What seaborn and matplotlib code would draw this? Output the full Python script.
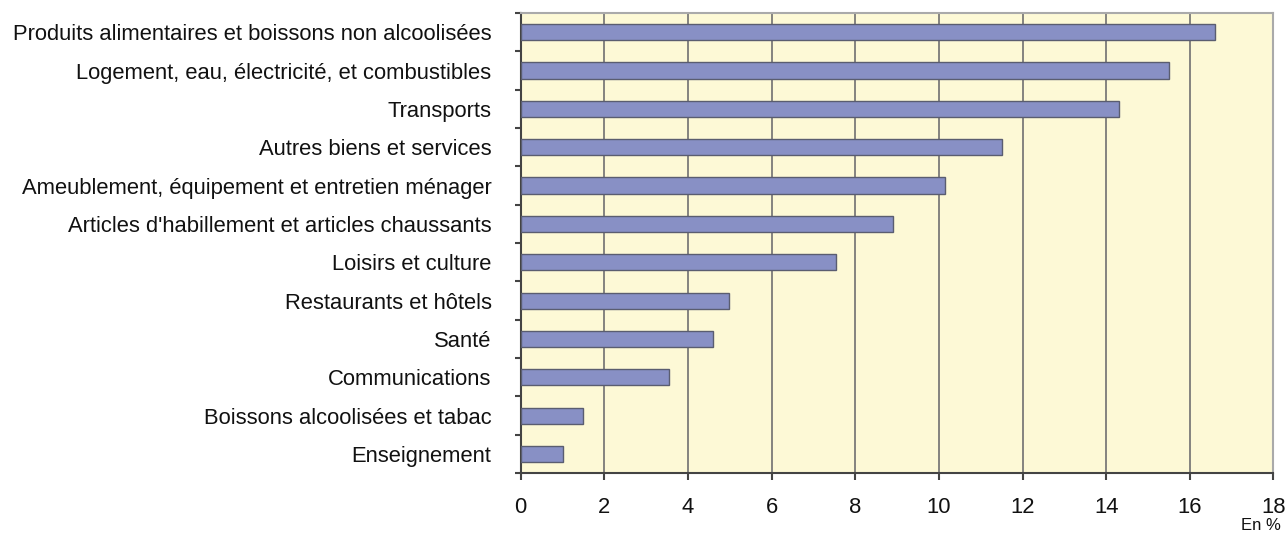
import matplotlib.pyplot as plt
import seaborn as sns
import pandas as pd
import numpy as np
from matplotlib.ticker import FixedLocator

categories = [
    "Produits alimentaires et boissons non alcoolisées",
    "Logement, eau, électricité, et combustibles",
    "Transports",
    "Autres biens et services",
    "Ameublement, équipement et entretien ménager",
    "Articles d'habillement et articles chaussants",
    "Loisirs et culture",
    "Restaurants et hôtels",
    "Santé",
    "Communications",
    "Boissons alcoolisées et tabac",
    "Enseignement",
]
values = [16.6, 15.5, 14.3, 11.5, 10.15, 8.9, 7.55, 4.97, 4.6, 3.55, 1.5, 1.02]
x_ticks = [0, 2, 4, 6, 8, 10, 12, 14, 16, 18]

df = pd.DataFrame({"poste": categories, "part": values})

sns.set_style("white")
plt.rcParams['font.family'] = ['Liberation Sans', 'DejaVu Sans']

fig = plt.figure(figsize=(12.87, 5.37), dpi=100)
ax = fig.add_axes([0.4046, 0.119, 0.9895 - 0.4046, 0.9758 - 0.119])
ax.set_facecolor("#fdf9d6")

sns.barplot(data=df, y="poste", x="part", orient="h", color="#8890c5",
            saturation=1, width=0.42, edgecolor="#5a5d70", linewidth=1, ax=ax, zorder=3)

ax.set_xlim(0, 18)
ax.set_ylim(len(categories) - 0.5, -0.5)
ax.set_xticks(x_ticks)
ax.set_xticklabels([str(t) for t in x_ticks])
ax.grid(axis="x", color="#707070", linewidth=1.2, zorder=0)
ax.set_axisbelow(True)

# category boundaries get the small tick marks
ax.yaxis.set_minor_locator(FixedLocator(np.arange(-0.5, len(categories), 1.0)))
ax.tick_params(axis="y", which="major", length=0, pad=21, labelsize=15.8, labelcolor="#111111")
ax.tick_params(axis="y", which="minor", length=4.5, width=1.5, color="#444444", left=True)
ax.tick_params(axis="x", which="major", length=5, width=1.5, color="#444444",
               pad=12, labelsize=15.8, labelcolor="#111111", bottom=True)

for side in ["left", "bottom"]:
    ax.spines[side].set_color("#444444")
    ax.spines[side].set_linewidth(1.5)
for side in ["top", "right"]:
    ax.spines[side].set_color("#aaaaaa")
    ax.spines[side].set_linewidth(1.5)

ax.set_xlabel("")
ax.set_ylabel("")
fig.text(0.995, 0.008, "En %", ha="right", va="bottom", fontsize=12, color="#111111")

fig.savefig("out.png", dpi=100)
plt.close()
